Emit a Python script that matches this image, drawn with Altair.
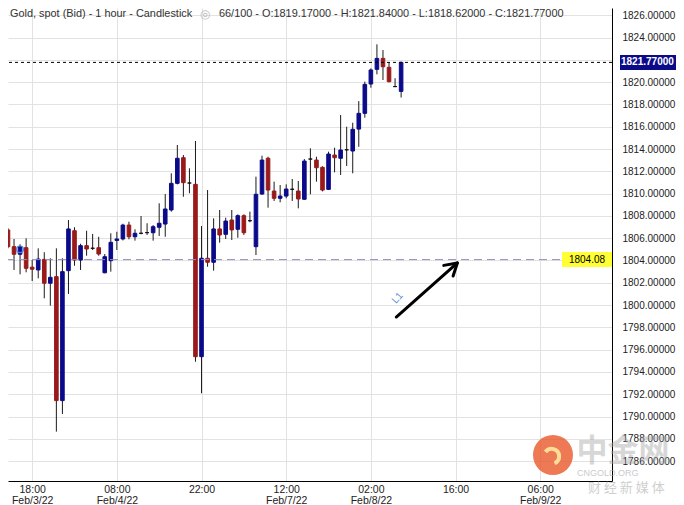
import altair as alt
import pandas as pd
import numpy as np

# ---------------- data (hour index: 0 = 18:00 Feb/3/22) ----------------
hours = list(range(-4, 62))
opens = [1806.74, 1805.24, 1804.56, 1805.15,
         1803.40, 1803.15, 1804.10, 1801.96, 1802.55, 1791.43, 1803.09, 1806.67, 1804.04, 1805.33,
         1805.10, 1805.15, 1802.90, 1803.98, 1805.80, 1805.93, 1807.18, 1806.13, 1806.44, 1806.50,
         1806.49, 1806.98, 1807.27, 1808.53, 1810.92, 1813.22, 1810.95, 1810.83, 1795.37, 1804.20,
         1803.84, 1806.83, 1806.35, 1807.63, 1806.80, 1808.02, 1807.57, 1805.24, 1809.96, 1813.17,
         1810.23, 1809.58, 1809.78, 1810.39, 1810.23, 1809.49, 1813.10, 1813.01, 1812.36, 1810.38,
         1813.46, 1813.17, 1813.93, 1813.82, 1815.79, 1817.20, 1819.83, 1821.15, 1822.13, 1821.33,
         1819.60, 1819.17]
highs = [1806.90, 1805.93, 1805.45, 1805.99,
         1804.04, 1805.09, 1804.74, 1804.20, 1805.09, 1804.20, 1807.63, 1806.98, 1805.50, 1806.67,
         1806.38, 1806.13, 1804.58, 1806.44, 1806.58, 1807.30, 1807.48, 1806.80, 1807.99, 1807.34,
         1807.18, 1809.13, 1809.96, 1811.82, 1814.36, 1813.46, 1812.27, 1814.72, 1807.09, 1810.32,
         1807.78, 1808.53, 1807.84, 1808.53, 1808.14, 1808.14, 1808.38, 1811.52, 1813.40, 1813.31,
         1811.07, 1810.77, 1810.83, 1811.31, 1811.13, 1813.10, 1814.06, 1813.31, 1812.45, 1813.76,
         1814.12, 1817.05, 1816.00, 1816.36, 1818.30, 1820.04, 1821.24, 1823.39, 1822.88, 1821.78,
         1820.35, 1821.84]
lows = [1805.10, 1803.15, 1802.76, 1802.94,
        1802.16, 1802.40, 1800.61, 1799.95, 1788.65, 1790.23, 1801.00, 1803.53, 1803.15, 1804.43,
        1804.94, 1804.43, 1802.85, 1803.00, 1804.94, 1805.80, 1805.90, 1805.78, 1806.35, 1806.29,
        1805.78, 1806.20, 1806.13, 1808.38, 1810.83, 1809.72, 1810.03, 1794.92, 1792.09, 1803.44,
        1803.09, 1805.60, 1805.93, 1805.84, 1806.04, 1806.29, 1807.43, 1804.49, 1809.90, 1808.74,
        1809.34, 1809.22, 1809.58, 1809.34, 1808.68, 1809.45, 1809.94, 1811.07, 1810.20, 1810.32,
        1811.91, 1811.67, 1812.48, 1811.82, 1814.20, 1816.81, 1819.50, 1820.70, 1820.19, 1819.98,
        1819.55, 1818.62]
closes = [1805.24, 1804.56, 1805.24, 1803.30,
          1803.22, 1804.13, 1801.96, 1802.49, 1791.43, 1803.00, 1806.83, 1804.04, 1805.33, 1805.03,
          1805.10, 1804.58, 1804.34, 1805.63, 1805.93, 1807.18, 1806.13, 1806.44, 1806.44, 1806.50,
          1807.03, 1807.34, 1808.62, 1810.92, 1813.17, 1810.98, 1810.95, 1795.37, 1804.20, 1803.84,
          1806.83, 1806.29, 1807.54, 1806.74, 1808.02, 1806.49, 1807.57, 1809.94, 1813.01, 1810.32,
          1809.58, 1809.78, 1810.41, 1810.39, 1809.52, 1812.92, 1813.10, 1812.32, 1810.32, 1813.55,
          1813.22, 1813.91, 1813.93, 1815.77, 1817.20, 1819.80, 1821.09, 1822.13, 1821.38, 1820.04,
          1819.60, 1821.77]

tick_hours = [0, 14, 28, 42, 56, 70, 84]
tick_times = ["18:00", "08:00", "22:00", "12:00", "02:00", "16:00", "06:00"]
tick_dates = ["Feb/3/22", "Feb/4/22", "", "Feb/7/22", "Feb/8/22", "", "Feb/9/22"]
price_ticks = list(range(1784, 1830, 2))

level_price = [1804.08]
level_label = ["1804.08"]
arrow_from = [60.2, 1798.93]
arrow_to = [70.3, 1803.78]
arrow_label = ["L1"]
arrow_label_pos = [60.4, 1800.64]
marked_candle = [-2, 1805.0]

# ---------------- layout ----------------
W, H = 604, 473
x_domain = [-3.17, 95.04]
y_domain = [1784.22, 1826.65]
px_x = W / (x_domain[1] - x_domain[0])
px_y = H / (y_domain[1] - y_domain[0])

RED = "#991a1a"
BLUE = "#0b0b8a"
FONT = "Liberation Sans"

df = pd.DataFrame({"t": hours, "open": opens, "high": highs, "low": lows, "close": closes})
df["dir"] = np.where(df.close > df.open, "up", np.where(df.close < df.open, "down", "flat"))

label_items = []
for tm, dt in zip(tick_times, tick_dates):
    if dt:
        label_items.append("['%s','%s']" % (tm, dt))
    else:
        label_items.append("['%s']" % tm)
label_expr = "[%s][indexof([%s], datum.value)]" % (",".join(label_items), ",".join(str(v) for v in tick_hours))

xscale = alt.Scale(domain=x_domain, nice=False, zero=False)
yscale = alt.Scale(domain=y_domain, nice=False, zero=False)
xaxis = alt.Axis(values=tick_hours, labelExpr=label_expr, title=None, ticks=False, grid=True,
                 gridColor="#e2e2e2", domainColor="#000000", labelFontSize=10.5, labelLineHeight=11,
                 labelPadding=3, labelBaseline="top", labelColor="#222222", labelOverlap=False,
                 labelFlush=False)
yaxis = alt.Axis(values=price_ticks, format=".5f", orient="right", title=None, ticks=False, grid=True,
                 gridColor="#e2e2e2", domainColor="#000000", labelFontSize=10, labelPadding=10,
                 labelColor="#222222", labelOverlap=False, labelFlush=False)


def X(f):
    return alt.X(f, type="quantitative", scale=xscale, axis=xaxis)


def Y(f):
    return alt.Y(f, type="quantitative", scale=yscale, axis=yaxis)


base = alt.Chart(df)
wicks = base.mark_rule(color="#1a1a1a", strokeWidth=1, clip=True).encode(x=X("t"), y=Y("low"), y2="high")
color_scale = alt.Scale(domain=["up", "down", "flat"], range=[BLUE, RED, "#111111"])
bodies = base.mark_bar(size=3.6, strokeWidth=1, clip=True).encode(
    x=X("t"), y=Y("open"), y2="close",
    color=alt.Color("dir:N", scale=color_scale, legend=None),
    stroke=alt.Stroke("dir:N", scale=color_scale, legend=None))

box_h = 7.5 / px_y
level_df = pd.DataFrame({"price": level_price, "label": level_label})
level_line = alt.Chart(level_df).mark_rule(color="#8e8ec6", strokeDash=[8, 5], strokeWidth=1).encode(y=Y("price"))
level_box = alt.Chart(level_df).transform_calculate(
    top="datum.price + %f" % box_h, bot="datum.price - %f" % box_h
).mark_rect(color="#ffff33").encode(x=alt.value(554), x2=alt.value(W), y=Y("top:Q"), y2="bot:Q")
level_text = alt.Chart(level_df).mark_text(fontSize=10, color="#000000").encode(
    x=alt.value(579), y=Y("price"), text="label:N")

last = df.iloc[-1]
cur_df = pd.DataFrame({"price": [last.close], "label": ["%.5f" % last.close]})
cur_line = alt.Chart(cur_df).mark_rule(color="#000000", strokeDash=[3, 3], strokeWidth=1).encode(y=Y("price"))
cur_box = alt.Chart(cur_df).transform_calculate(
    top="datum.price + %f" % box_h, bot="datum.price - %f" % box_h
).mark_rect(color=BLUE).encode(x=alt.value(W + 8), x2=alt.value(W + 64), y=Y("top:Q"), y2="bot:Q")
cur_text = alt.Chart(cur_df).mark_text(fontSize=10, fontWeight="bold", color="#ffffff", align="left").encode(
    x=alt.value(W + 9), y=Y("price"), text="label:N")

arrow_df = pd.DataFrame({"t1": [arrow_from[0]], "p1": [arrow_from[1]], "t2": [arrow_to[0]], "p2": [arrow_to[1]]})
arrow_line = alt.Chart(arrow_df).mark_rule(color="#000000", strokeWidth=3, strokeCap="round").encode(
    x=X("t1"), x2="t2", y=Y("p1"), y2="p2")
head_angle = float(np.degrees(np.arctan2((arrow_to[0] - arrow_from[0]) * px_x, (arrow_to[1] - arrow_from[1]) * px_y)))
arrow_head = alt.Chart(arrow_df).mark_point(
    shape="M -0.6 1 L 0 0 L 0.6 1", filled=False, stroke="#000000", strokeWidth=3, size=560,
    angle=head_angle, strokeCap="round", strokeJoin="round", opacity=1).encode(x=X("t2"), y=Y("p2"))
l1_df = pd.DataFrame({"t": [arrow_label_pos[0]], "p": [arrow_label_pos[1]], "label": arrow_label})
l1_text = alt.Chart(l1_df).mark_text(fontSize=10, color="#5b8fd6", angle=360 - head_angle).encode(
    x=X("t"), y=Y("p"), text="label:N")

mark_df = pd.DataFrame({"t": [marked_candle[0]], "p": [marked_candle[1]]})
mark_circle = alt.Chart(mark_df).mark_point(shape="circle", filled=False, stroke="#4a7fe0", strokeWidth=1.2,
                                            size=45, opacity=1).encode(x=X("t"), y=Y("p"))

header1 = "Gold, spot (Bid) - 1 hour - Candlestick"
header2 = "%d/100 - O:%.5f - H:%.5f - L:%.5f - C:%.5f" % (len(hours), last.open, last.high, last.low, last.close)
h1 = alt.Chart(cur_df).mark_text(align="left", baseline="middle", fontSize=10.9, color="#333333").encode(
    x=alt.value(2), y=alt.value(6), text=alt.value(header1))
eye = alt.Chart(cur_df).mark_text(align="left", baseline="middle", fontSize=12, color="#bbbbbb").encode(
    x=alt.value(192), y=alt.value(6), text=alt.value("◎"))
h2 = alt.Chart(cur_df).mark_text(align="left", baseline="middle", fontSize=10.9, color="#333333").encode(
    x=alt.value(211), y=alt.value(6), text=alt.value(header2))

# watermark
wm_circle = alt.Chart(cur_df).mark_point(shape="circle", filled=True, size=1600, color="#e8582a", opacity=0.8).encode(
    x=alt.value(545), y=alt.value(447))
wm_swirl = alt.Chart(cur_df).mark_point(shape="M -0.5 -0.2 A 0.5 0.5 0 1 1 0.1 0.55", filled=False,
                                        stroke="#ffe9a0", strokeWidth=4, size=900, opacity=0.9).encode(
    x=alt.value(545), y=alt.value(447))
wm_text = alt.Chart(cur_df).mark_text(fontSize=31, fontWeight="bold", color="#a8a8a8", opacity=0.45,
                                      font="Noto Sans CJK SC").encode(
    x=alt.value(615), y=alt.value(444), text=alt.value("中金网"))
wm_sub = alt.Chart(cur_df).mark_text(fontSize=9, color="#a8a8a8", opacity=0.6, align="left").encode(
    x=alt.value(569), y=alt.value(465), text=alt.value("CNGOLD.ORG"))
wm_sub2 = alt.Chart(cur_df).mark_text(fontSize=13, color="#a8a8a8", opacity=0.55, align="left",
                                      font="Noto Sans CJK SC").encode(
    x=alt.value(580), y=alt.value(480), text=alt.value("财 经 新 媒 体"))

chart = alt.layer(
    wicks, bodies, level_line, cur_line, level_box, level_text, cur_box, cur_text,
    arrow_line, arrow_head, l1_text, mark_circle, h1, eye, h2,
    wm_circle, wm_swirl, wm_text, wm_sub, wm_sub2
).properties(
    width=W, height=H,
    padding={"left": 0, "top": 0, "right": 64, "bottom": 26},
    autosize=alt.AutoSizeParams(type="none")
).configure(font=FONT).configure_view(stroke="transparent")

chart.save("out.html", embed_options={"renderer": "svg", "actions": False})
